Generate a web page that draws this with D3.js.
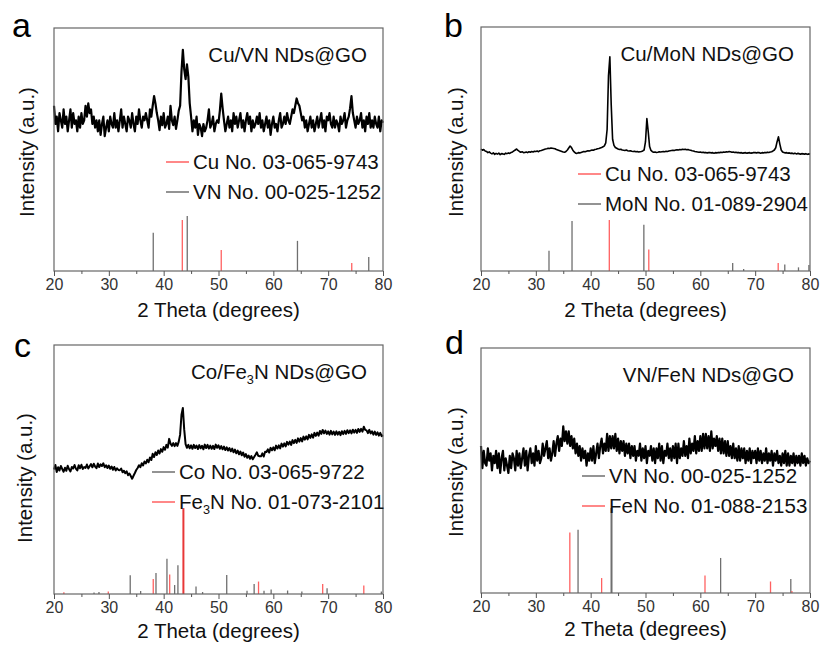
<!DOCTYPE html>
<html>
<head>
<meta charset="utf-8">
<script src="https://cdn.jsdelivr.net/npm/d3@7"></script>
<style>
  body { margin: 0; background: #fff; }
  svg { display: block; font-family: "Liberation Sans", Arial, sans-serif; }
</style>
</head>
<body>
<svg id="chart" width="820" height="646"></svg>
<script>
// 2 theta grid: 20 -> 80 deg, step 0.25
const thetaStart = 20, thetaStep = 0.25;
const xTicks = [20, 30, 40, 50, 60, 70, 80];
const xMinorTicks = [25, 35, 45, 55, 65, 75];

// measured patterns (a.u., 0 = axis, 100 = top of frame)
const xrdCuVN = [
  68,60.5,63.5,57.5, 65,62,59,66.5, 60.5,63.5,57.5,62, 66.5,59,65,60.5, 62,57.5,63.5,59,
  65,60.5,62,68, 63.5,69,65,66.5, 60.5,63.5,59,62, 57.5,62,56,60.5, 63.5,55.5,59,62,
  57.5,63.5,60.5,59, 65,59,62,57.5, 62,66.5,59,63.5, 60.5,57.5,63.5,62, 59,65,60.5,57.5,
  63.5,60.5,66.5,62, 59,63.5,62,65, 62,59,66.5,63.5, 68,72,69,65, 62,58,63.5,60,
  65,59,60.5,63.5, 58.5,68,62,60, 63.5,58.5,62,66, 68,82,91,83, 79,85,80,69,
  63.5,57.5,62,59, 63.5,56,60.5,59, 55.5,60.5,57.5,59, 62,66.5,59,60.5, 63.5,57.5,60.5,62,
  61,66,73,67, 62,57.5,60.5,63.5, 59,62,57.5,65, 60.5,63.5,59,62, 65,59,62,57.5,
  62,65,60.5,63.5, 57.5,62,59,60.5, 63.5,60.5,65,59, 62,57.5,60.5,63.5, 59,62,56,60.5,
  63.5,59,60.5,57.5, 62,65,59,60.5, 63.5,60.5,65,62, 60.5,63.5,66.5,65, 68,71,69,68,
  65,62,63.5,59, 62,57.5,60.5,63.5, 59,62,57.5,60.5, 63.5,59,62,65, 59,62,57.5,63.5,
  62,65,60.5,59, 63.5,59,62,60.5, 57.5,63.5,60.5,62, 65,59,62,63.5, 67,72,65,62,
  59,63.5,60.5,62, 65,59,62,57.5, 63.5,60.5,65,59, 62,59,63.5,60.5, 59,63.5,57.5,62,
  61
];
const xrdCuMoN = [
  50,49.5,49.8,49.2, 49,48.5,48.8,48.3, 48,48.4,47.8,48.2, 47.9,48.3,47.7,48.1, 48,47.8,48.3,48.1,
  48.4,48.2,48.6,48.8, 49.2,49.6,50,49.4, 49,48.7,48.9,48.5, 48.6,48.8,48.5,48.9, 48.7,49,48.8,49.1,
  49,49.2,48.9,49.3, 49.4,49.6,49.8,50, 50.1,50.3,50.2,50.4, 50.3,50.2,50.1,49.8, 49.6,49.4,49.2,49,
  48.8,48.7,49,49.6, 50.4,51.2,50.6,49.5, 48.8,48.3,48.2,48.5, 48.4,48.6,48.8,49, 48.9,49.1,49.3,49.2,
  49.4,49.6,49.5,49.8, 49.9,50.1,50.2,50.4, 50.6,50.9,51.3,52.5, 58,80,87.8,68, 54,51.5,50.6,50.3,
  50,49.8,49.9,49.6, 49.5,49.4,49.6,49.3, 49.2,49.3,49.1,49, 49.1,48.9,49,48.8, 48.9,49,49.2,49.6,
  53,62.5,57,51, 49.4,48.9,48.7,48.8, 48.6,48.7,48.9,48.8, 48.9,49,48.9,49.1, 49,49.2,49.3,49.4,
  49.5,49.4,49.6,49.7, 49.6,49.8,49.7,49.9, 49.8,49.9,49.7,49.8, 49.6,49.5,49.3,49.2, 49,48.9,48.8,48.7,
  48.8,48.6,48.7,48.5, 48.6,48.4,48.5,48.6, 48.4,48.5,48.3,48.5, 48.4,48.6,48.5,48.7, 48.6,48.8,48.7,48.9,
  48.8,49,48.9,48.7, 48.8,48.6,48.7,48.5, 48.6,48.4,48.5,48.3, 48.4,48.5,48.3,48.4, 48.5,48.3,48.4,48.6,
  48.5,48.4,48.6,48.5, 48.3,48.5,48.4,48.6, 48.5,48.7,48.6,48.8, 48.9,49.2,49.6,50.5, 53,55,52,49.6,
  48.8,48.6,48.4,48.5, 48.3,48.4,48.2,48.3, 48.1,48.3,48,48.2, 48.1,47.9,48.1,48, 47.9,48.1,47.8,48,
  47.9
];
const xrdCoFe3N = [
  50,51.8,49,50.9, 49.6,51.4,50.2,49.1, 50.7,49.5,51.5,50.1, 49.2,51,50.4,51.8, 50.3,49.6,51.7,50.5,
  51.9,50.2,51,50.6, 52,50.4,51.3,52.2, 50.9,52.3,51.2,50.5, 52.4,51,52.1,51.4, 52.5,50.9,51.7,50.6,
  51.6,50.3,51.2,49.9, 51,49.6,50.5,49.8, 49.7,50.4,48.9,49.5, 48.5,49.3,47.7,48.4, 47.4,46.3,47.5,48.6,
  49.8,50.6,51.7,50.9, 52.5,51.6,53.2,52.4, 53.9,52.9,54.8,53.8, 56.3,55,56.9,55.8, 57.6,56.4,58.2,57.1,
  59,57.9,59.9,58.8, 62.3,60.4,59.5,60.6, 59.4,60.6,59.5,61.2, 64,72,74.7,66, 60.2,58.7,59.9,58.5,
  59.7,58.3,59.9,58.6, 59.6,58.2,59.8,58.5, 59.5,58.1,60,58.6, 59.9,58.4,59.6,58.3, 59.5,58.2,60,58.7,
  59.7,58.3,59.4,58.1, 59.2,57.8,58.9,57.6, 58.6,57.3,58.4,56.9, 58,56.5,57.6,56.1, 57.2,55.7,56.8,55.1,
  56.2,54.7,55.6,54.3, 55.4,54.1,55,55.9, 56.9,55.5,55.3,55.3, 56.5,55.2,57.1,57, 58.1,56.8,58.7,57.7,
  58.9,57.7,59.6,58.4, 59.7,58.5,60.4,59.2, 60.5,59.3,61.1,60, 61.2,59.9,61.8,60.6, 61.9,60.7,62.5,61.2,
  62.6,61.3,63.2,62, 63.3,62.1,63.9,62.7, 64.1,62.8,64.7,63.5, 64.8,63.6,65.5,64.3, 65.9,64.5,65.6,64.3,
  65.3,64,65.5,64.1, 65.2,63.9,65.3,64, 65.1,63.8,65.4,64.2, 65.5,64.3,65.8,64.6, 65.7,64.5,66,64.8,
  65.9,64.7,66.3,65.1, 66.3,65.2,67.2,65.9, 65.7,64.6,65.9,64.5, 65.3,64,65.2,63.9, 64.9,63.6,64.7,63.4,
  63.8
];
const xrdVNFeN = [
  60,51,58,53, 52,59,54,57, 50,56,53,58, 51,57,49,55, 58,50,55,52,
  49,56,51,57, 55,50,58,52, 57,51,55,59, 52,58,50,56, 59,53,57,52,
  60,54,58,53, 55,61,56,59, 62,55,59,54, 57,62,56,61, 64,58,63,60,
  68,62,66,61, 66,60,64,59, 63,57,61,56, 60,54,59,55, 58,52,57,54,
  59,54,60,53, 57,61,55,60, 63,57,61,58, 65,58,64,59, 64,59,65,58,
  63,57,62,58, 62,56,61,57, 61,55,60,56, 60,54,58,56, 61,54,59,55,
  60,53,58,56, 60,54,59,53, 59,55,61,54, 60,53,58,56, 61,55,59,54,
  60,55,61,53, 61,55,59,56, 62,56,60,55, 63,57,61,58, 64,57,62,58,
  64,58,65,59, 65,59,64,58, 66,59,63,60, 64,58,63,57, 63,57,62,56,
  62,56,60,55, 61,55,59,54, 60,54,59,55, 59,53,58,54, 59,53,58,55,
  58,53,59,54, 58,53,57,54, 59,53,57,54, 58,52,57,54, 58,53,56,52,
  57,53,58,52, 57,52,56,53, 57,52,56,53, 56,52,57,53, 56,52,55,53,
  54
];

// standard reference cards: [2theta, relative height]
const refCu = [[43.4, 21], [50.5, 8.6], [74.3, 3.3]];
const refCuB = [[43.4, 20.9], [50.6, 8.8], [74.2, 3.3]];
const refVN = [[38.1, 15.7], [44.3, 22.6], [64.4, 12.4], [77.4, 5.8]];
const refMoN = [[32.4, 8.3], [36.6, 20.5], [49.7, 19], [65.9, 3.3], [67.9, 0.8], [75.4, 2.7], [77.9, 1.5], [79.8, 2.5]];
const refCo = [[27.3, 0.6], [28.2, 0.8], [33.9, 7.5], [35.8, 1.2], [38.6, 8.4], [40.6, 14.2], [42.0, 3.6], [42.6, 11.5],
  [45.9, 3], [47.1, 0.8], [51.5, 7.6], [55.2, 1.3], [56.5, 4], [58.3, 1.3], [59.6, 1.8], [62.6, 1.4], [65.2, 1],
  [69.8, 2.3], [79.7, 1]];
const refFe3N = [[21.8, 0.7], [29.9, 1], [38.1, 6], [41.1, 7.8], [43.6, 34.5], [57.3, 5], [69.0, 4], [76.5, 3.4]];
const refVND = [[37.7, 25.8], [43.8, 34.7], [63.7, 14.3], [76.5, 5.7]];
const refFeN = [[36.2, 24.7], [42.0, 6.1], [60.85, 7.1], [72.8, 4.7], [76.7, 0.8]];

const grayRef = "#6f6f6f", redRef = "#ff6161";
const fs = 20.5;

const panels = [
  {letter: "a", lx: 12, ly: 37, box: [54, 28, 383, 271], title: [{t: "Cu/VN NDs@GO"}],
   curve: xrdCuVN, lw: 2.2, refs: [{data: refVN, color: grayRef}, {data: refCu, color: redRef}],
   legend: {x: 166, y: 162, items: [
     {color: redRef, parts: [{t: "Cu No. 03-065-9743"}]},
     {color: grayRef, parts: [{t: "VN No. 00-025-1252"}]}]},
   ytitle: [34, 152], xtitle: 317},
  {letter: "b", lx: 444, ly: 37, box: [481, 27, 810, 271], title: [{t: "Cu/MoN NDs@GO"}],
   curve: xrdCuMoN, lw: 1.6, refs: [{data: refMoN, color: grayRef}, {data: refCuB, color: redRef}],
   legend: {x: 578, y: 174, items: [
     {color: redRef, parts: [{t: "Cu No. 03-065-9743"}]},
     {color: grayRef, parts: [{t: "MoN No. 01-089-2904"}]}]},
   ytitle: [463, 152], xtitle: 317},
  {letter: "c", lx: 14, ly: 357, box: [54, 345, 383, 594], title: [{t: "Co/Fe"}, {t: "3", sub: true}, {t: "N NDs@GO"}],
   curve: xrdCoFe3N, lw: 2, refs: [{data: refCo, color: grayRef}, {data: refFe3N, color: redRef}],
   legend: {x: 152, y: 472, items: [
     {color: grayRef, parts: [{t: "Co No. 03-065-9722"}]},
     {color: redRef, parts: [{t: "Fe"}, {t: "3", sub: true}, {t: "N No. 01-073-2101"}]}]},
   ytitle: [32, 478], xtitle: 638},
  {letter: "d", lx: 445, ly: 354, box: [481, 348, 810, 593], title: [{t: "VN/FeN NDs@GO"}],
   curve: xrdVNFeN, lw: 2.2, refs: [{data: refVND, color: grayRef}, {data: refFeN, color: redRef}],
   legend: {x: 582, y: 476, items: [
     {color: grayRef, parts: [{t: "VN No. 00-025-1252"}]},
     {color: redRef, parts: [{t: "FeN No. 01-088-2153"}]}]},
   ytitle: [463, 472], xtitle: 636}
];

const svg = d3.select("#chart");

// text with optional subscript parts
function addRich(sel, parts, size) {
  let prevSub = false;
  parts.forEach(function(p){
    const ts = sel.append("tspan").text(p.t);
    if (p.sub) {
      ts.attr("font-size", size * 0.62).attr("dy", size * 0.22);
    } else if (prevSub) {
      ts.attr("dy", -size * 0.22);
    }
    prevSub = !!p.sub;
  });
}

panels.forEach(function(p){
  const [x0, y0, x1, y1] = p.box;
  const g = svg.append("g");

  const xScale = d3.scaleLinear().domain([20, 80]).range([x0, x1]);
  const yScale = d3.scaleLinear().domain([0, 100]).range([y1, y0]);

  // reference sticks
  p.refs.forEach(function(r){
    g.selectAll(null)
      .data(r.data)
      .enter()
      .append("line")
      .attr("x1", function(d){ return xScale(d[0]) })
      .attr("x2", function(d){ return xScale(d[0]) })
      .attr("y1", yScale(0))
      .attr("y2", function(d){ return yScale(d[1]) })
      .attr("stroke", function(d){ return d[1] > 30 && r.color === redRef ? "#e83838" : r.color })
      .attr("stroke-width", function(d){ return d[1] > 30 ? 2 : 1.3 });
  });

  // measured pattern
  const line = d3.line()
    .x(function(d, i){ return xScale(thetaStart + i * thetaStep) })
    .y(function(d){ return yScale(d) });
  g.append("path")
    .datum(p.curve)
    .attr("fill", "none")
    .attr("stroke", "#000")
    .attr("stroke-width", p.lw)
    .attr("stroke-linejoin", "round")
    .attr("d", line);

  // frame
  g.append("rect")
    .attr("x", x0).attr("y", y0)
    .attr("width", x1 - x0).attr("height", y1 - y0)
    .attr("fill", "none").attr("stroke", "#666").attr("stroke-width", 1.2);

  // axes
  const ax = g.append("g").attr("transform", "translate(0," + y1 + ")")
    .call(d3.axisBottom(xScale).tickValues(xTicks).tickSize(5).tickPadding(3));
  ax.select(".domain").remove();
  ax.selectAll("line").attr("stroke", "#555");
  ax.selectAll("text").attr("font-size", 16).attr("fill", "#333")
    .attr("font-family", "'Liberation Sans', Arial, sans-serif");
  const axm = g.append("g").attr("transform", "translate(0," + y1 + ")")
    .call(d3.axisBottom(xScale).tickValues(xMinorTicks).tickSize(3).tickFormat(""));
  axm.select(".domain").remove();
  axm.selectAll("line").attr("stroke", "#555");

  // title
  const tt = g.append("text")
    .attr("x", x1 - 16).attr("y", y0 + 34)
    .attr("text-anchor", "end").attr("font-size", fs).attr("fill", "#111");
  addRich(tt, p.title, fs);

  // legend
  p.legend.items.forEach(function(it, i){
    const ly = p.legend.y + i * 30;
    g.append("line")
      .attr("x1", p.legend.x).attr("x2", p.legend.x + 23)
      .attr("y1", ly).attr("y2", ly)
      .attr("stroke", it.color).attr("stroke-width", 1.5);
    const lt = g.append("text")
      .attr("x", p.legend.x + 27).attr("y", ly + 7)
      .attr("font-size", fs).attr("fill", "#111");
    addRich(lt, it.parts, fs);
  });

  // axis titles
  g.append("text")
    .attr("transform", "translate(" + p.ytitle[0] + "," + p.ytitle[1] + ") rotate(-90)")
    .attr("text-anchor", "middle").attr("font-size", fs).attr("fill", "#111")
    .text("Intensity (a.u.)");
  g.append("text")
    .attr("x", (x0 + x1) / 2).attr("y", p.xtitle)
    .attr("text-anchor", "middle").attr("font-size", fs).attr("fill", "#111")
    .text("2 Theta (degrees)");

  // panel letter
  g.append("text")
    .attr("x", p.lx).attr("y", p.ly)
    .attr("font-size", 34).attr("fill", "#000")
    .text(p.letter);
});
</script>
</body>
</html>
